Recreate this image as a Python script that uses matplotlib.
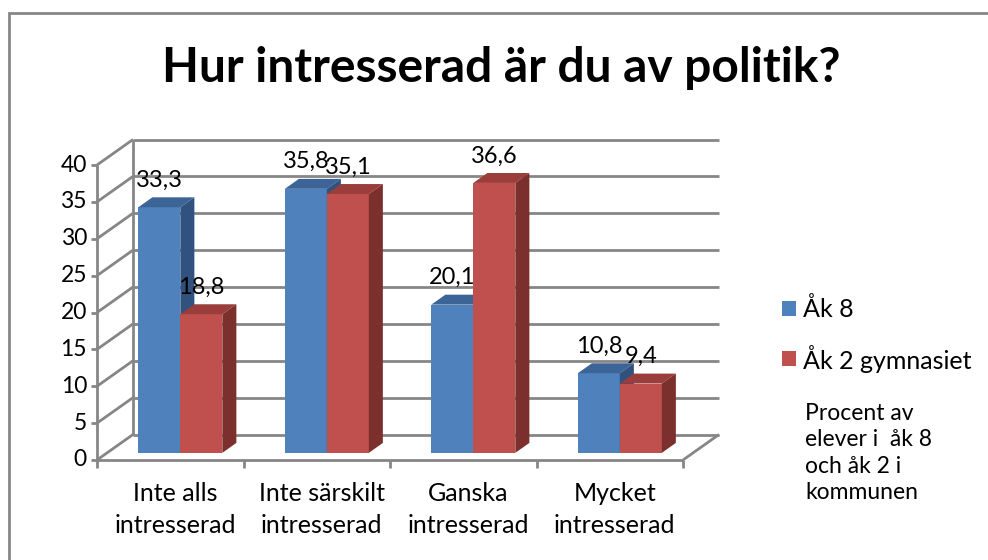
import matplotlib
matplotlib.use("Agg")
import matplotlib.pyplot as plt
from matplotlib.patches import Polygon, Rectangle

# ---------------- data ----------------
categories = ["Inte alls\nintresserad", "Inte särskilt\nintresserad",
              "Ganska\nintresserad", "Mycket\nintresserad"]
series_names = ["Åk 8", "Åk 2 gymnasiet"]
ak8 = [33.3, 35.8, 20.1, 10.8]
ak2 = [18.8, 35.1, 36.6, 9.4]
yticks = [0, 5, 10, 15, 20, 25, 30, 35, 40]
title = "Hur intresserad är du av politik?"
note = "Procent av\nelever i  åk 8\noch åk 2 i\nkommunen"

# ---------------- style ----------------
FONT = ["Lato", "DejaVu Sans"]
plt.rcParams["font.family"] = FONT
front_cols = ["#4F81BD", "#C0504D"]
top_cols = ["#3C6497", "#9A3D3B"]
side_cols = ["#31517E", "#7C302E"]
grid_col = "#868686"

W, H = 988, 560
fig = plt.figure(figsize=(W / 100, H / 100), dpi=100)
ax = fig.add_axes([0, 0, 1, 1])
ax.set_axis_off()

# pixel geometry of the front plane (category & value scales)
px_cat = 146.5     # pixels per category
px_val = 7.375     # pixels per value unit
x0_px = 97         # left edge of front plane (category -0.5)
y0_px = 460        # value 0 on the front plane (from top)
ax.set_xlim(-0.5 - x0_px / px_cat, -0.5 + (W - x0_px) / px_cat)
ax.set_ylim(-(H - y0_px) / px_val, y0_px / px_val)

DX = 36 / px_cat   # full depth offset in category units
DY = 25.5 / px_val # full depth offset in value units


def P(c, v, d):
    return (c + d * DX, v + d * DY)


def line(p, q, **kw):
    ax.plot([p[0], q[0]], [p[1], q[1]], color=grid_col, lw=2,
            solid_capstyle="butt", clip_on=False, **kw)


n = len(categories)
lo, hi = -0.5, n - 0.5
vmax = yticks[-1]

# chart border (left and top edges visible)
ax.add_patch(Rectangle((9 / W, -0.2), 1.2, 0.2 + (H - 13) / H, transform=fig.transFigure,
                       fill=False, ec=grid_col, lw=2, clip_on=False))

# walls / gridlines
for v in yticks:
    line(P(hi, v, 1), P(lo, v, 1))
    line(P(lo, v, 1), P(lo, v, 0))
line(P(lo, 0, 1), P(lo, vmax, 1))
line(P(lo, 0, 0), P(lo, vmax, 0))
line(P(lo, 0, 0), P(hi, 0, 0))
line(P(hi, 0, 0), P(hi, 0, 1))
for v in yticks:
    line(P(lo - 6 / px_cat, v, 0), P(lo, v, 0))
    ax.text(lo - 10 / px_cat, v, f"{v}", ha="right", va="center",
            fontsize=16.5, color="black")
for k in range(n + 1):
    c = lo + k
    line(P(c, 0, 0), P(c, -8 / px_val, 0))

# category labels
for i, lab in enumerate(categories):
    ax.text(i + 5 / px_cat, -22 / px_val, lab, ha="center", va="top",
            fontsize=18, linespacing=1.45)

# bars
w = 42 / px_cat
d0, d1 = 0.28, 0.67
for i in range(n):
    for s, vals in enumerate([ak8, ak2]):
        v = vals[i]
        xl = i - w + s * w
        xr = xl + w
        zo = 3 + i * 2 + s
        ax.add_patch(Polygon([P(xl, 0, d0), P(xr, 0, d0), P(xr, v, d0), P(xl, v, d0)],
                             closed=True, fc=front_cols[s], ec="none", zorder=zo))
        ax.add_patch(Polygon([P(xl, v, d0), P(xr, v, d0), P(xr, v, d1), P(xl, v, d1)],
                             closed=True, fc=top_cols[s], ec="none", zorder=zo))
        ax.add_patch(Polygon([P(xr, 0, d0), P(xr, v, d0), P(xr, v, d1), P(xr, 0, d1)],
                             closed=True, fc=side_cols[s], ec="none", zorder=zo))
        lx, ly = P((xl + xr) / 2, v, d0)
        ax.text(lx, ly + 27 / px_val, f"{v:.1f}".replace(".", ","), ha="center",
                va="center", fontsize=17, zorder=20)

# title
fig.text(501 / W, 1 - 68 / H, title, ha="center", va="center",
         fontsize=34.5, fontweight="bold")

# legend
leg_y = [309, 359]
for s, name in enumerate(series_names):
    fig.patches.append(Rectangle((782 / W, 1 - (leg_y[s] + 7) / H), 14 / W, 15 / H,
                                 transform=fig.transFigure, fc=front_cols[s], ec="none"))
    fig.text(803 / W, 1 - leg_y[s] / H, name, ha="left", va="center", fontsize=18)
fig.text(805 / W, 1 - 403 / H, note, ha="left", va="top", fontsize=16.5,
         linespacing=1.32)

fig.savefig("out.png", dpi=100)
